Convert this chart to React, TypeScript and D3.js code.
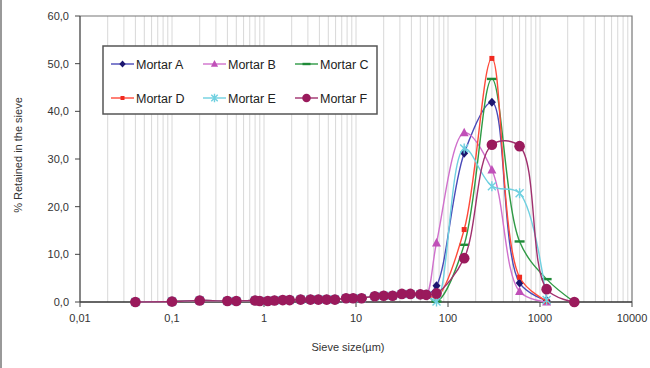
import * as d3 from "d3";
import { useRef, useEffect } from "react";

// sieve sizes in µm (laser fraction + mechanical sieves)
const fineSizes = [0.04, 0.1, 0.2, 0.4, 0.5, 0.8, 0.9, 1.1, 1.3, 1.6, 1.9, 2.5, 3.2, 3.9, 4.8, 5.9, 7.8, 9.3, 11.5, 16, 20, 25, 31.5, 39, 50, 58];
const coarseSizes = [75, 150, 300, 600, 1180, 2360];

// % retained in the fine fraction (shared shape)
const fineValues = [0, 0.1, 0.3, 0.2, 0.2, 0.3, 0.2, 0.2, 0.3, 0.4, 0.4, 0.5, 0.5, 0.5, 0.5, 0.5, 0.8, 0.8, 0.8, 1.2, 1.3, 1.3, 1.7, 1.7, 1.6, 1.5];

// % retained on the coarse sieves per mortar
const mortarA = [3.4, 31.2, 41.9, 4.0, 0.3];
const mortarB = [12.4, 35.5, 27.7, 2.2, 0.0];
const mortarC = [0.1, 12.0, 46.8, 12.7, 4.8, 0.0];
const mortarD = [1.0, 15.2, 51.1, 5.2, 0.2];
const mortarE = [0.1, 32.2, 24.3, 22.8, 0.4];
const mortarF = [1.8, 9.2, 33.0, 32.7, 2.7, 0.0];

const names = ["Mortar A", "Mortar B", "Mortar C", "Mortar D", "Mortar E", "Mortar F"];
const lineColors = ["#4a4ab8", "#d070cc", "#2f9a45", "#ff4a3a", "#6fd0e0", "#a0306e"];
const markColors = ["#1c1670", "#c050b8", "#1f8a38", "#f02a20", "#6fd0e0", "#9a1a5c"];
const markTypes = ["diamond", "triangle", "dash", "square", "star", "circle"];

const yTicks = [0, 10, 20, 30, 40, 50, 60];
const xTicks = [0.01, 0.1, 1, 10, 100, 1000, 10000];
const xTickLabels = ["0,01", "0,1", "1", "10", "100", "1000", "10000"];

type Pt = { s: number; v: number };

function drawMarker(g: any, type: string, x: number, y: number, color: string, k = 1) {
  if (type === "diamond") {
    g.append("path").attr("d", `M${x},${y - 4.5 * k}L${x + 4 * k},${y}L${x},${y + 4.5 * k}L${x - 4 * k},${y}Z`).attr("fill", color);
  } else if (type === "triangle") {
    g.append("path").attr("d", `M${x},${y - 5 * k}L${x + 4.5 * k},${y + 3.5 * k}L${x - 4.5 * k},${y + 3.5 * k}Z`).attr("fill", color);
  } else if (type === "dash") {
    g.append("rect").attr("x", x - 5 * k).attr("y", y - 1.2).attr("width", 10 * k).attr("height", 2.4).attr("fill", color);
  } else if (type === "square") {
    g.append("rect").attr("x", x - 2.5 * k).attr("y", y - 2.5 * k).attr("width", 5 * k).attr("height", 5 * k).attr("fill", color);
  } else if (type === "star") {
    const r = 4 * k;
    g.append("path")
      .attr("d", `M${x - r},${y - r}L${x + r},${y + r}M${x - r},${y + r}L${x + r},${y - r}M${x},${y - r - 1}L${x},${y + r + 1}`)
      .attr("stroke", color).attr("stroke-width", 1.4).attr("fill", "none");
  } else {
    g.append("circle").attr("cx", x).attr("cy", y).attr("r", 5.3 * k).attr("fill", color);
  }
}

export default function App() {
  const svgRef = useRef<SVGSVGElement>(null);

  useEffect(() => {
    const svg = d3.select(svgRef.current);
    svg.selectAll("*").remove();

    const W = 650, H = 368;
    const x = d3.scaleLog().domain([0.01, 10000]).range([80, 632]);
    const y = d3.scaleLinear().domain([0, 60]).range([302, 16]);
    const font = "'Liberation Sans', Arial, sans-serif";

    svg.append("rect").attr("width", W).attr("height", H).attr("fill", "#fff");
    svg.append("line").attr("x1", 1).attr("x2", 1).attr("y1", 0).attr("y2", H).attr("stroke", "#999").attr("stroke-width", 2);

    // vertical log gridlines
    const grid: number[] = [];
    for (let e = -2; e < 4; e++) for (let m = 1; m < 10; m++) grid.push(m * Math.pow(10, e));
    svg.append("g").selectAll("line").data(grid.slice(1)).enter().append("line")
      .attr("x1", d => x(d)).attr("x2", d => x(d)).attr("y1", y(60)).attr("y2", y(0))
      .attr("stroke", "#d8d8d8").attr("stroke-width", 1);

    // plot frame (top + right) and axes
    svg.append("path").attr("d", `M${x(0.01)},${y(60)}H${x(10000)}V${y(0)}`)
      .attr("fill", "none").attr("stroke", "#777").attr("stroke-width", 1.2);
    svg.append("line").attr("x1", x(0.01)).attr("x2", x(10000)).attr("y1", y(0)).attr("y2", y(0))
      .attr("stroke", "#333").attr("stroke-width", 1.3);
    svg.append("line").attr("x1", x(0.01)).attr("x2", x(0.01)).attr("y1", y(0)).attr("y2", y(60))
      .attr("stroke", "#444").attr("stroke-width", 1.3);

    // y ticks
    const yg = svg.append("g");
    yTicks.forEach(t => {
      yg.append("line").attr("x1", 75).attr("x2", 80).attr("y1", y(t)).attr("y2", y(t)).attr("stroke", "#444");
      yg.append("text").attr("x", 69).attr("y", y(t) + 4).attr("text-anchor", "end")
        .attr("font-family", font).attr("font-size", 11).attr("fill", "#333")
        .text(d3.format(".1f")(t).replace(".", ","));
    });

    // x ticks
    const xg = svg.append("g");
    xTicks.forEach((t, i) => {
      xg.append("line").attr("x1", x(t)).attr("x2", x(t)).attr("y1", y(0)).attr("y2", y(0) + 5).attr("stroke", "#444");
      xg.append("text").attr("x", x(t)).attr("y", 322).attr("text-anchor", "middle")
        .attr("font-family", font).attr("font-size", 11).attr("fill", "#333").text(xTickLabels[i]);
    });

    // axis titles
    svg.append("text").attr("x", 348).attr("y", 351).attr("text-anchor", "middle")
      .attr("font-family", font).attr("font-size", 11).attr("fill", "#333").text("Sieve size(µm)");
    svg.append("text").attr("transform", `translate(22,155) rotate(-90)`).attr("text-anchor", "middle")
      .attr("font-family", font).attr("font-size", 11).attr("fill", "#333").text("% Retained in the sieve");

    // series
    const coarse = [mortarA, mortarB, mortarC, mortarD, mortarE, mortarF];
    const series: Pt[][] = coarse.map(vals => {
      const pts: Pt[] = fineSizes.map((s, i) => ({ s, v: fineValues[i] }));
      vals.forEach((v, i) => pts.push({ s: coarseSizes[i], v }));
      return pts;
    });

    const line = d3.line<Pt>().x(d => x(d.s)).y(d => y(d.v)).curve(d3.curveCatmullRom.alpha(0.5));
    const sg = svg.append("g");
    series.forEach((pts, k) => {
      sg.append("path").attr("d", line(pts)).attr("fill", "none")
        .attr("stroke", lineColors[k]).attr("stroke-width", 1.4);
      pts.forEach(p => drawMarker(sg, markTypes[k], x(p.s), y(p.v), markColors[k]));
    });

    // legend
    const lg = svg.append("g");
    lg.append("rect").attr("x", 103).attr("y", 46).attr("width", 274).attr("height", 68)
      .attr("fill", "#fff").attr("stroke", "#555").attr("stroke-width", 1.5);
    const colX = [111, 203, 295];
    const rowY = [64, 98];
    names.forEach((n, k) => {
      const cx = colX[k % 3], cy = rowY[Math.floor(k / 3)];
      lg.append("line").attr("x1", cx).attr("x2", cx + 23).attr("y1", cy).attr("y2", cy)
        .attr("stroke", lineColors[k]).attr("stroke-width", 1.4);
      drawMarker(lg, markTypes[k], cx + 11.5, cy, markColors[k], 0.8);
      lg.append("text").attr("x", cx + 25).attr("y", cy + 4.5)
        .attr("font-family", font).attr("font-size", 12.5).attr("fill", "#222").text(n);
    });
  }, []);

  return (
    <svg ref={svgRef} width={650} height={368} style={{ position: "absolute", left: 0, top: 0 }} />
  );
}
